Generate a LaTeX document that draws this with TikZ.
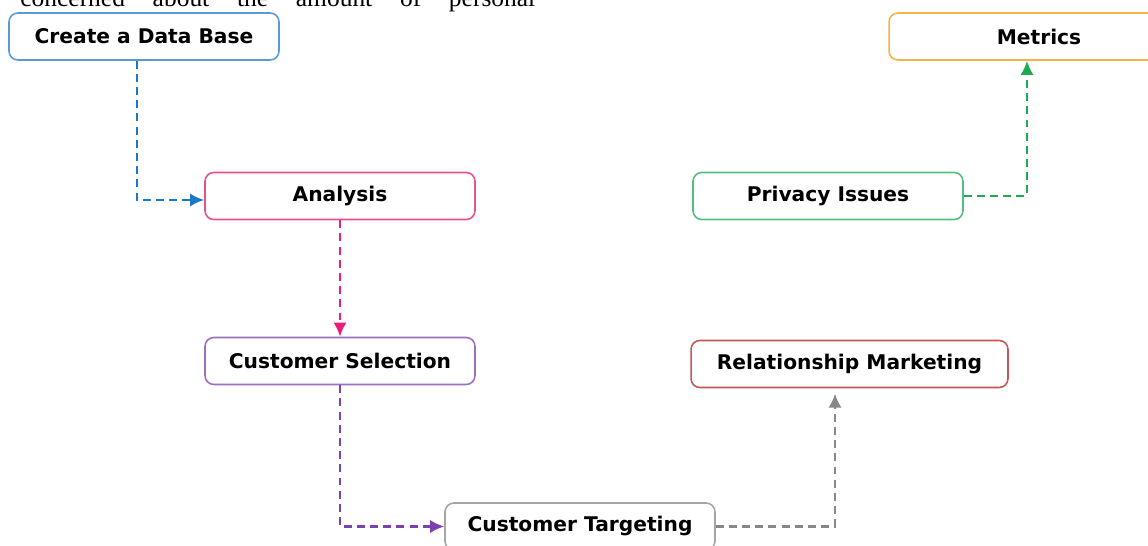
\documentclass[tikz,border=0pt]{standalone}
\usepackage{fontspec}
\setmainfont{DejaVu Sans}
\newfontfamily\bodyserif{Liberation Serif}
\usetikzlibrary{arrows.meta}

\definecolor{baseblue}{RGB}{91,155,213}
\definecolor{arrowblue}{RGB}{30,120,200}
\definecolor{analysispink}{RGB}{232,80,140}
\definecolor{arrowpink}{RGB}{232,30,120}
\definecolor{selectpurple}{RGB}{155,110,195}
\definecolor{arrowpurple}{RGB}{125,65,175}
\definecolor{targetgray}{RGB}{165,165,165}
\definecolor{arrowgray}{RGB}{135,135,135}
\definecolor{relred}{RGB}{200,85,85}
\definecolor{privgreen}{RGB}{85,190,125}
\definecolor{arrowgreen}{RGB}{30,170,80}
\definecolor{metricorange}{RGB}{245,180,70}

\tikzset{
  stagebox/.style={draw=#1, line width=.9pt, rounded corners=5pt, fill=white,
    minimum width=5.4cm, minimum height=0.94cm, font=\bfseries\fontsize{11.5}{13}\selectfont},
  flowline/.style={draw=#1, arrows={-Latex[length=8pt,width=7.5pt]}, line width=1.3pt,
    dash pattern=on 4.5pt off 3pt}
}

\begin{document}
\begin{tikzpicture}[x=0.02cm, y=-0.02cm]
\useasboundingbox (0,0) rectangle (1148,546);

%text of the page above the figure
\node[anchor=base west, inner sep=0pt, font=\bodyserif\fontsize{14.5}{16}\selectfont] (pagetext) at (20,7)
  {\makebox[10.3cm][s]{concerned about the amount of personal}};

%stages
\node[stagebox=baseblue] at (144,36.5) (database) {Create a Data Base};
\node[stagebox=metricorange, minimum width=6cm] at (1039,36.5) (metrics) {Metrics};
\node[stagebox=analysispink] at (340,196) (analysis) {Analysis};
\node[stagebox=privgreen] at (828,196) (privacy) {Privacy Issues};
\node[stagebox=selectpurple] at (340,361) (selection) {Customer Selection};
\node[stagebox=relred, minimum width=6.34cm] at (849.5,364) (relation) {Relationship Marketing};
\node[stagebox=targetgray] at (580,526.5) (targeting) {Customer Targeting};

%dashed connectors
\path[flowline=arrowblue] ([xshift=-0.14cm]database.south) |- ([yshift=-0.08cm]analysis.west);
\path[flowline=arrowpink] (analysis) -- (selection);
\path[flowline=arrowpurple] (selection) |- (targeting);
\path[flowline=arrowgray, shorten >=3pt] (targeting) -| ([xshift=-0.29cm]relation.south);
\path[flowline=arrowgreen] (privacy) -| ([xshift=-0.24cm]metrics.south);

\end{tikzpicture}
\end{document}
